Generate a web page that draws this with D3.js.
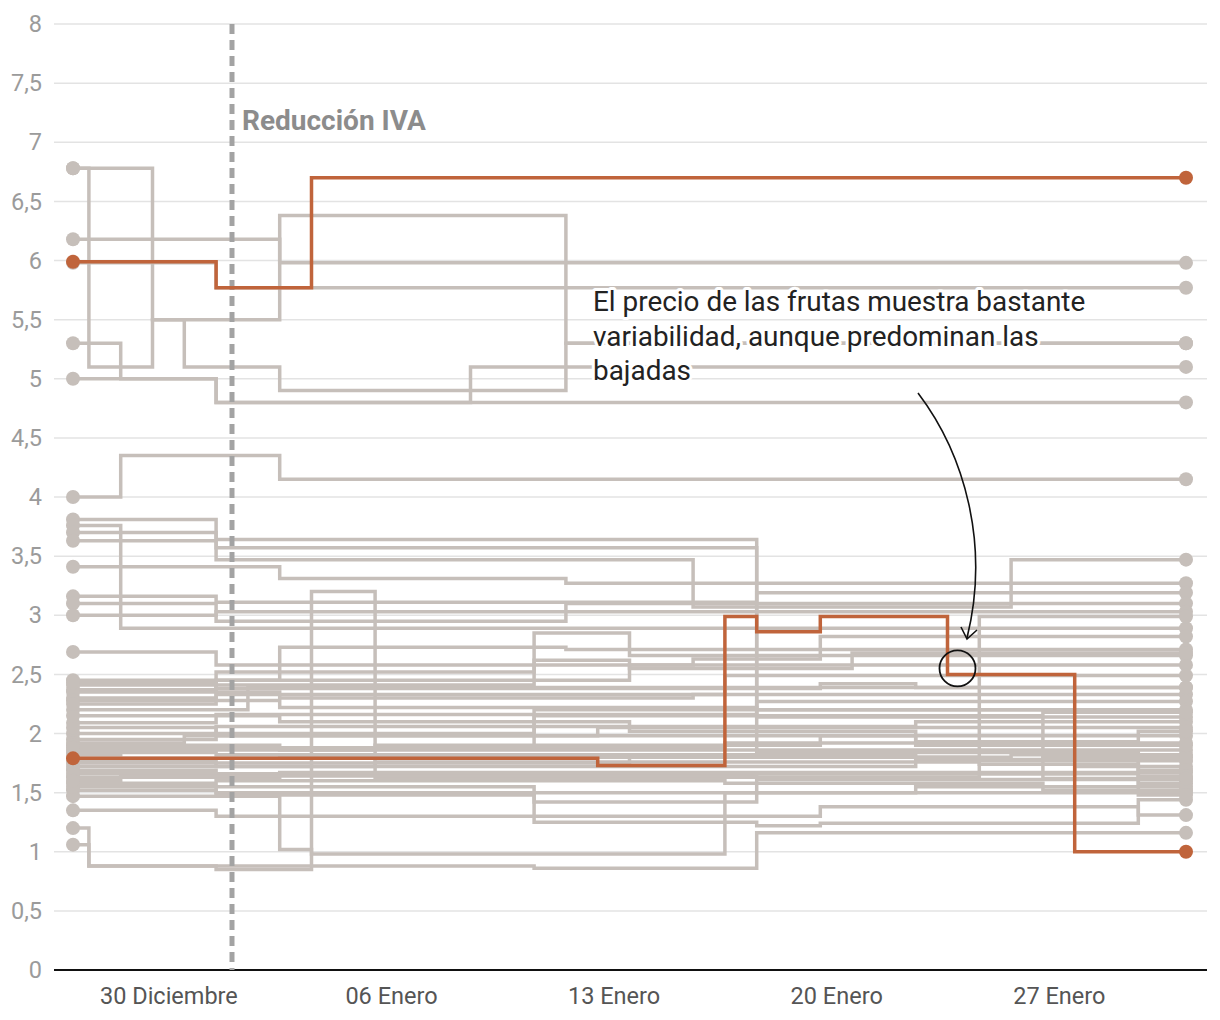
<!DOCTYPE html>
<html><head><meta charset="utf-8">
<script src="https://cdn.jsdelivr.net/npm/d3@7"></script>
<style>
body{margin:0;background:#fff;font-family:Roboto,"Noto Sans",sans-serif;}
</style></head><body>
<svg id="c" width="1220" height="1020"></svg>
<script>
// Day index 0 = 27 Dic 2022 ... 35 = 31 Ene 2023. Each series: [day, value] change points.
const xTickDays = [3, 10, 17, 24, 31];
const xTickLabels = ["30 Diciembre", "06 Enero", "13 Enero", "20 Enero", "27 Enero"];
const yTicks = [0,0.5,1,1.5,2,2.5,3,3.5,4,4.5,5,5.5,6,6.5,7,7.5,8];
const lastDay = 35;
const ivaDay = 5;
const ivaLabel = "Reducción IVA";
const noteLines = ["El precio de las frutas muestra bastante","variabilidad, aunque predominan las","bajadas"];

const graySeries = [
  [[0,6.78],[0.5,5.10],[2.5,5.50],[3.5,5.10],[6.5,4.90],[15.5,5.30]],
  [[0,6.78],[2.5,5.50],[6.5,6.38],[15.5,5.30]],
  [[0,6.18],[6.5,5.98]],
  [[0,5.98],[4.5,5.77]],
  [[0,5.30],[1.5,5.00],[4.5,4.80]],
  [[0,5.00],[4.5,4.80],[12.5,5.10]],
  [[0,4.00],[1.5,4.35],[6.5,4.15]],
  [[0,3.81],[4.5,3.47],[19.5,3.07],[29.5,3.47]],
  [[0,3.76],[1.5,2.89]],
  [[0,3.70],[4.5,3.64],[21.5,2.14]],
  [[0,3.63],[4.5,3.57],[21.5,1.86]],
  [[0,3.41],[6.5,3.31],[15.5,3.27]],
  [[0,3.16],[4.5,3.11],[21.5,3.19]],
  [[0,3.10],[4.5,2.95],[15.5,3.10]],
  [[0,3.00],[4.5,3.03]],
  [[0,2.69],[4.5,2.58],[19.5,2.63],[23.5,2.82]],
  [[0,1.06],[0.5,0.88],[4.5,0.85],[7.5,3.20],[9.5,1.63],[28.5,2.99]],
  [[0,2.45],[6.5,2.73],[15.5,2.71]],
  [[0,2.41],[14.5,2.85],[17.5,2.66]],
  [[0,2.37],[4.5,2.45],[17.5,2.58]],
  [[0,2.30],[4.5,2.33],[20.5,2.49]],
  [[0,2.20],[5.5,2.39]],
  [[0,2.35],[6.5,2.30],[19.5,2.33]],
  [[0,2.09],[4.5,2.16],[21.5,2.27]],
  [[0,2.00],[14.5,2.20]],
  [[0,1.95],[4.5,2.06],[26.5,2.10]],
  [[0,1.92],[3.5,1.98],[16.5,2.05]],
  [[0,1.86],[9.5,1.90],[23.5,1.98]],
  [[0,1.82],[1.5,1.87],[20.5,1.92]],
  [[0,1.79],[6.5,1.80],[29.5,1.82]],
  [[0,1.75],[4.5,1.72],[26.5,1.77]],
  [[0,1.69],[4.5,1.66],[31.5,1.72]],
  [[0,1.63],[6.5,1.67]],
  [[0,1.58],[4.5,1.55],[14.5,1.42],[21.5,1.61]],
  [[0,1.52],[4.5,1.50],[26.5,1.55]],
  [[0,1.47],[6.5,1.02],[7.5,0.98],[20.5,1.50]],
  [[0,1.55],[4.5,1.48],[14.5,1.25],[21.5,1.22],[23.5,1.24],[33.5,1.44]],
  [[0,1.35],[4.5,1.30],[23.5,1.38],[33.5,1.31]],
  [[0,1.20],[0.5,0.88],[14.5,0.86],[21.5,1.16]],
  [[0,2.43],[4.5,2.38],[23.5,2.42],[26.5,2.39]],
  [[0,2.28],[6.5,2.22],[21.5,2.20],[30.5,2.18]],
  [[0,2.05],[4.5,1.98],[26.5,1.93],[33.5,2.02]],
  [[0,1.90],[6.5,1.86],[21.5,1.84],[30.5,1.80]],
  [[0,1.84],[4.5,1.82],[26.5,1.85],[33.5,1.69]],
  [[0,1.72],[9.5,1.76],[28.5,1.74],[33.5,1.64]],
  [[0,1.66],[4.5,1.60],[20.5,1.58],[30.5,1.52]],
  [[0,1.60],[1.5,1.64],[21.5,1.66],[33.5,1.58]],
  [[0,2.15],[6.5,2.10],[17.5,2.02],[26.5,1.90]],
  [[0,2.25],[4.5,2.52],[14.5,2.62],[17.5,2.55],[24.5,2.68]],
  [[0,1.88],[14.5,2.15],[30.5,1.62]],
  [[0,1.77],[4.5,1.75],[17.5,1.80],[28.5,1.78],[33.5,1.48]]
];
const orangeSeries = [
  [[0,5.99],[4.5,5.77],[7.5,6.70]],
  [[0,1.79],[16.5,1.73],[20.5,2.99],[21.5,2.86],[23.5,2.99],[27.5,2.50],[31.5,1.00]]
];

const GRAY = "#c6bfba", ORANGE = "#c0643b";
const svg = d3.select("#c");
const x = d3.scaleLinear().domain([0, lastDay]).range([73, 1186]);
const y = d3.scaleLinear().domain([0, 8]).range([970, 24]);
const gridX0 = 54, gridX1 = 1207;

// grid
svg.append("g").selectAll("line").data(yTicks).join("line")
  .attr("x1", gridX0).attr("x2", gridX1)
  .attr("y1", d => y(d)).attr("y2", d => y(d))
  .attr("stroke", "#e3e3e3").attr("stroke-width", 1.5);

// y labels
const fmt = d => String(d).replace(".", ",");
svg.append("g").selectAll("text").data(yTicks).join("text")
  .attr("x", 42).attr("y", d => y(d)).attr("dy", "0.35em")
  .attr("text-anchor", "end").attr("font-size", 23.5).attr("fill", "#9b9b9b")
  .text(fmt);

// x axis
const xAxis = d3.axisBottom(x).tickValues(xTickDays)
  .tickFormat((d, i) => xTickLabels[i]).tickSize(0).tickPadding(17);
const gx = svg.append("g").attr("transform", `translate(0,${y(0)})`).call(xAxis);
gx.select(".domain").remove();
gx.selectAll("text").attr("font-size", 23.5).attr("fill", "#555").attr("font-family", "Roboto");
svg.append("line").attr("x1", gridX0).attr("x2", gridX1).attr("y1", y(0)).attr("y2", y(0))
  .attr("stroke", "#111").attr("stroke-width", 2);

const line = d3.line().x(d => x(d[0])).y(d => y(d[1])).curve(d3.curveStepAfter);
const withEnd = s => s.concat([[lastDay, s[s.length - 1][1]]]);

const gGray = svg.append("g");
gGray.selectAll("path").data(graySeries).join("path")
  .attr("d", s => line(withEnd(s))).attr("fill", "none")
  .attr("stroke", GRAY).attr("stroke-width", 3.5);
const dots = (g, data, color) => {
  g.selectAll(null).data(data.flatMap(s => { const e = withEnd(s); return [e[0], e[e.length - 1]]; }))
    .join("circle").attr("cx", d => x(d[0])).attr("cy", d => y(d[1])).attr("r", 7).attr("fill", color);
};
dots(gGray, graySeries, GRAY);

// IVA line
svg.append("line").attr("x1", x(ivaDay)).attr("x2", x(ivaDay)).attr("y1", y(8)).attr("y2", y(0))
  .attr("stroke", "#a3a3a3").attr("stroke-width", 5).attr("stroke-dasharray", "10,6");
svg.append("text").attr("x", x(ivaDay) + 10).attr("y", 130).attr("font-size", 28)
  .attr("font-weight", "bold").attr("fill", "#8c8c8c").text(ivaLabel);

const gOr = svg.append("g");
gOr.selectAll("path").data(orangeSeries).join("path")
  .attr("d", s => line(withEnd(s))).attr("fill", "none")
  .attr("stroke", ORANGE).attr("stroke-width", 3.5);
dots(gOr, orangeSeries, ORANGE);

// annotation
const note = svg.append("text").attr("font-size", 27.9).attr("fill", "#222")
  .attr("stroke", "#fff").attr("stroke-width", 6).attr("paint-order", "stroke").attr("stroke-linejoin", "round");
noteLines.forEach((t, i) => note.append("tspan").attr("x", 593).attr("y", 311 + i * 34.5).text(t));

svg.append("path").attr("d", "M918,393 C965,455 990,545 967,638").attr("fill", "none")
  .attr("stroke", "#111").attr("stroke-width", 1.6);
svg.append("path").attr("d", "M961,627 L967,639 L977,630").attr("fill", "none")
  .attr("stroke", "#111").attr("stroke-width", 1.6);
svg.append("circle").attr("cx", x(27.5) + 10).attr("cy", y(2.55)).attr("r", 18)
  .attr("fill", "none").attr("stroke", "#111").attr("stroke-width", 1.8);
</script></body></html>
